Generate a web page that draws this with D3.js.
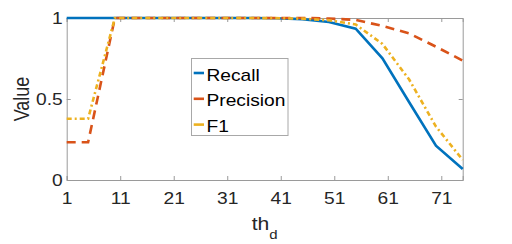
<!DOCTYPE html>
<html>
<head>
<meta charset="utf-8">
<script src="https://cdn.jsdelivr.net/npm/d3@7"></script>
<style>
  body { margin: 0; background: #fff; }
  svg { display: block; font-family: "Liberation Sans", Arial, Helvetica, sans-serif; }
</style>
</head>
<body>
<div id="chart"></div>
<script>
// data
var thd = [1, 5, 10, 15, 20, 25, 30, 35, 40, 45, 50, 55, 60, 65, 70, 75];
var recall = [1, 1, 1, 1, 1, 1, 1, 1, 0.998, 0.993, 0.975, 0.934, 0.751, 0.48, 0.212, 0.068];
var precision = [0.233, 0.233, 1, 1, 1, 1, 1, 1, 1, 1, 0.997, 0.988, 0.951, 0.905, 0.823, 0.737];
var f1 = [0.378, 0.378, 1, 1, 1, 1, 1, 1, 0.999, 0.996, 0.986, 0.96, 0.84, 0.62, 0.33, 0.124];
var seriesNames = ["Recall", "Precision", "F1"];
var xTicks = [1, 11, 21, 31, 41, 51, 61, 71];
var yTicks = [0, 0.5, 1];

var width = 512, height = 244;
var margin = { left: 66.7, right: 49.3, top: 18, bottom: 64 };
var sx = 1.2; // the figure text looks horizontally stretched
var axisColor = "#9a9a9a";
var textColor = "#262626";

var series = [
  { name: seriesNames[0], values: recall, color: "#0072BD", dash: null },
  { name: seriesNames[1], values: precision, color: "#D95319", dash: "9,6" },
  { name: seriesNames[2], values: f1, color: "#EDB120", dash: "5,3,2,3" }
];

var svg = d3.select("#chart").append("svg")
  .attr("width", width)
  .attr("height", height);

var x = d3.scaleLinear().domain([1, 75]).range([margin.left, width - margin.right]);
var y = d3.scaleLinear().domain([0, 1]).range([height - margin.bottom, margin.top]);

// axes box with inward ticks
var xAxis = svg.append("g")
  .attr("transform", "translate(0," + y(0) + ")")
  .call(d3.axisBottom(x).tickValues(xTicks).tickSize(-4).tickPadding(13).tickFormat(d3.format("d")));
var xTop = svg.append("g")
  .attr("transform", "translate(0," + y(1) + ")")
  .call(d3.axisTop(x).tickValues(xTicks).tickSize(-4).tickFormat(""));
var yAxis = svg.append("g")
  .attr("transform", "translate(" + x(1) + ",0)")
  .call(d3.axisLeft(y).tickValues(yTicks).tickSize(-4).tickPadding(4).tickFormat(d3.format("")));
var yRight = svg.append("g")
  .attr("transform", "translate(" + x(75) + ",0)")
  .call(d3.axisRight(y).tickValues(yTicks).tickSize(-4).tickFormat(""));

svg.selectAll(".domain").attr("stroke", axisColor).attr("stroke-width", 1);
svg.selectAll(".tick line").attr("stroke", axisColor);
svg.selectAll(".tick text")
  .attr("fill", textColor)
  .style("font-size", "16px")
  .style("font-family", "Liberation Sans, Arial, sans-serif");

// aesthetic adjustment: stretch tick labels
xAxis.selectAll(".tick text").attr("transform", "scale(" + sx + ",1)");
yAxis.selectAll(".tick text")
  .attr("x", -4 / sx)
  .attr("transform", "scale(" + sx + ",1)");

// lines
var line = d3.line()
  .x(function (d, i) { return x(thd[i]); })
  .y(function (d) { return y(d); });

svg.selectAll(".series")
  .data(series)
  .enter()
  .append("path")
  .attr("class", "series")
  .attr("d", function (s) { return line(s.values); })
  .attr("fill", "none")
  .attr("stroke", function (s) { return s.color; })
  .attr("stroke-width", 2.6)
  .attr("stroke-dasharray", function (s) { return s.dash; });

// axis labels
svg.append("text")
  .attr("transform", "translate(21," + y(0.5) + ") scale(" + sx + ",1) rotate(-90)")
  .attr("text-anchor", "middle")
  .attr("dy", "0.35em")
  .attr("fill", textColor)
  .style("font-size", "18px")
  .text("Value");

var xl = svg.append("text")
  .attr("transform", "translate(" + (x(1) + x(75)) / 2 + ",230) scale(" + sx + ",1)")
  .attr("text-anchor", "middle")
  .attr("fill", textColor)
  .style("font-size", "17.6px");
xl.append("tspan").text("th");
xl.append("tspan").attr("dy", 9).style("font-size", "12.5px").text("d");

// legend
var legend = svg.append("g");
legend.append("rect")
  .attr("x", 191.5)
  .attr("y", 58.5)
  .attr("width", 96.5)
  .attr("height", 77)
  .attr("fill", "#fff")
  .attr("stroke", "#a8a8a8")
  .attr("stroke-width", 1);

var rows = legend.selectAll(".leg")
  .data(series)
  .enter()
  .append("g")
  .attr("class", "leg")
  .attr("transform", function (s, i) { return "translate(0," + (73 + i * 25.8) + ")"; });

rows.append("line")
  .attr("x1", 193.7)
  .attr("x2", 204)
  .attr("stroke", function (s) { return s.color; })
  .attr("stroke-width", 2.6);

rows.append("text")
  .attr("transform", "translate(206.5,7.5) scale(" + sx + ",1)")
  .attr("fill", "#000")
  .style("font-size", "16px")
  .text(function (s) { return s.name; });
</script>
</body>
</html>
